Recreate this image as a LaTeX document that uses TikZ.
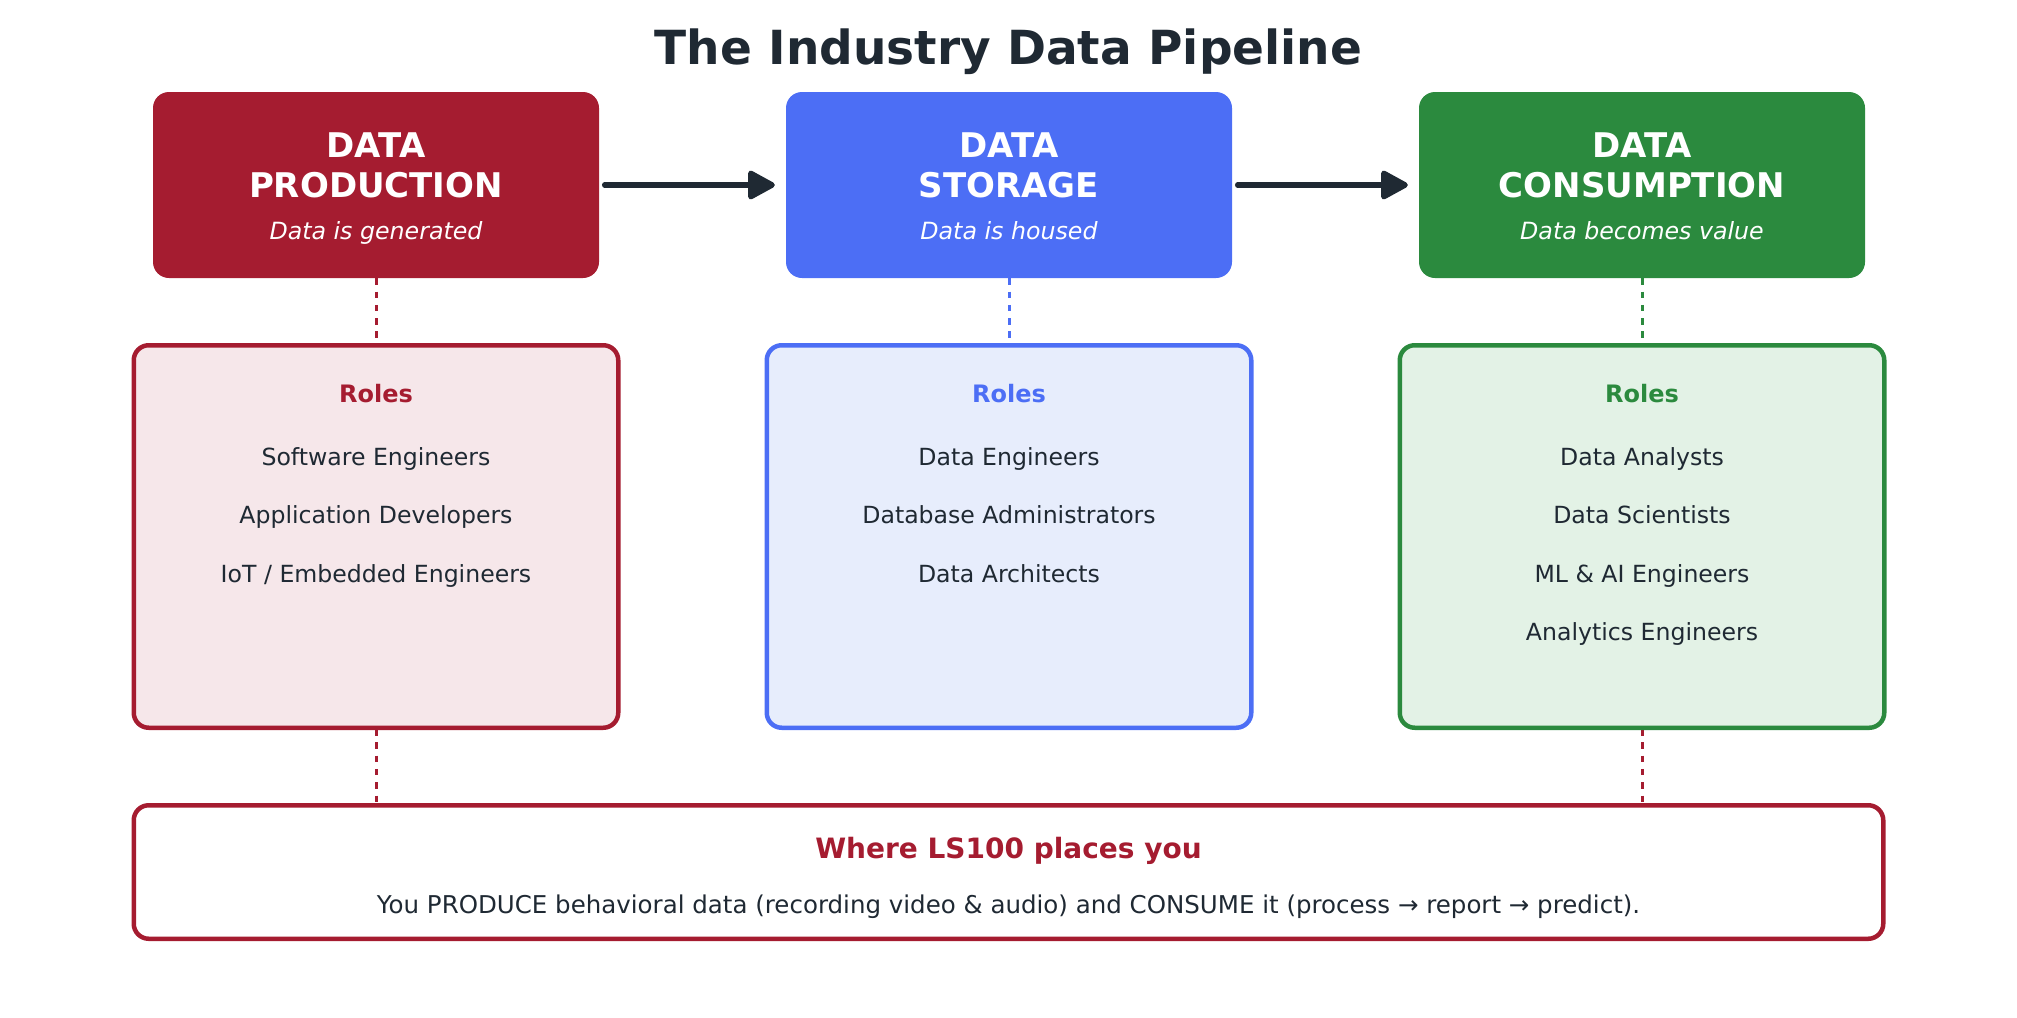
\documentclass[tikz,border=0pt]{standalone}
\usepackage{fontspec}
\setmainfont{DejaVu Sans}
\usetikzlibrary{arrows.meta,calc}

\definecolor{ink}{HTML}{1F2933}
\definecolor{prodred}{HTML}{A51C30}
\definecolor{storblue}{HTML}{4C6EF5}
\definecolor{consgreen}{HTML}{2B8A3E}
\definecolor{prodfill}{HTML}{F6E7EA}
\definecolor{storfill}{HTML}{E7EDFC}
\definecolor{consfill}{HTML}{E3F2E6}

\tikzset{
	stagebox/.style={rounded corners=16pt, minimum width=446pt, minimum height=186pt, inner sep=0pt},
	rolebox/.style={rounded corners=15pt, line width=4.5pt, minimum width=484.5pt, minimum height=382.5pt, inner sep=0pt},
	wherebox/.style={rounded corners=15pt, line width=4.5pt, draw=prodred, fill=white, minimum width=1749.5pt, minimum height=133.5pt, inner sep=0pt},
	headtext/.style={anchor=base, text=white, font=\bfseries\fontsize{34}{40}\selectfont},
	subtext/.style={anchor=base, text=white, font=\itshape\fontsize{23.7}{28}\selectfont},
	roletitle/.style={anchor=base, font=\bfseries\fontsize{24}{28}\selectfont},
	roletext/.style={anchor=base, text=ink, font=\fontsize{23.6}{28}\selectfont},
	flowarrow/.style={draw=ink, line width=5.5pt, line cap=round, -{Triangle[length=30pt,width=31pt,round]}},
	linkline/.style={line width=3pt, dash pattern=on 6.5pt off 6.8pt},
}

\newcommand{\drawstage}[5]{
	\node[stagebox, fill=#3] (#1) at (#2,185) {};
	\node[headtext] (#1top) at ($(#1.north)+(0,65.5)$) {DATA};
	\node[headtext] (#1name) at ($(#1.north)+(0,105.5)$) {#4};
	\node[subtext] (#1sub) at ($(#1.north)+(0,147.5)$) {#5};
}
\newcommand{\drawroles}[5]{
	\node[rolebox, draw=#3, fill=#4] (#1) at (#2,536.5) {};
	\node[roletitle, text=#3] (#1title) at ($(#1.north)+(0,59)$) {Roles};
	\foreach \r [count=\k] in {#5} {
		\pgfmathsetmacro{\dy}{122+58.5*(\k-1)}
		\node[roletext] (#1item\k) at ($(#1.north)+(0,\dy)$) {\r};
	}
}

\begin{document}
\begin{tikzpicture}[x=1pt,y=-1pt]
	\useasboundingbox (0,0) rectangle (2017,1017);
	\node[anchor=base, text=ink, font=\bfseries\fontsize{47}{56}\selectfont] (title) at (1008.5,64) {The Industry Data Pipeline};

	\drawstage{prod}{376}{prodred}{PRODUCTION}{Data is generated}
	\drawstage{stor}{1009}{storblue}{STORAGE}{Data is housed}
	\drawstage{cons}{1642}{consgreen}{CONSUMPTION}{Data becomes value}

	\draw[flowarrow] ([xshift=5.5pt]prod.east) -- ([xshift=-11pt]stor.west);
	\draw[flowarrow] ([xshift=5.5pt]stor.east) -- ([xshift=-11pt]cons.west);

	\node[wherebox] (where) at (1008.5,872) {};
	\draw[linkline, draw=prodred] (prod.south) -- (prod.south |- 0,348);
	\draw[linkline, draw=storblue] (stor.south) -- (stor.south |- 0,348);
	\draw[linkline, draw=consgreen] (cons.south) -- (cons.south |- 0,348);
	\draw[linkline, draw=prodred] (376,729) -- (prod.south |- where.north);
	\draw[linkline, draw=prodred] (1642,729) -- (cons.south |- where.north);

	\drawroles{prodroles}{376}{prodred}{prodfill}{Software Engineers, Application Developers, IoT / Embedded Engineers}
	\drawroles{storroles}{1009}{storblue}{storfill}{Data Engineers, Database Administrators, Data Architects}
	\drawroles{consroles}{1642}{consgreen}{consfill}{Data Analysts, Data Scientists, ML \& AI Engineers, Analytics Engineers}

	\node[anchor=base, text=prodred, font=\bfseries\fontsize{28}{34}\selectfont] (wheretitle) at ($(where.north)+(0,55.5)$) {Where LS100 places you};
	\node[anchor=base, text=ink, font=\fontsize{24.5}{29}\selectfont] (wheretext) at ($(where.north)+(0,110)$) {You PRODUCE behavioral data (recording video \& audio) and CONSUME it (process → report → predict).};
\end{tikzpicture}
\end{document}
